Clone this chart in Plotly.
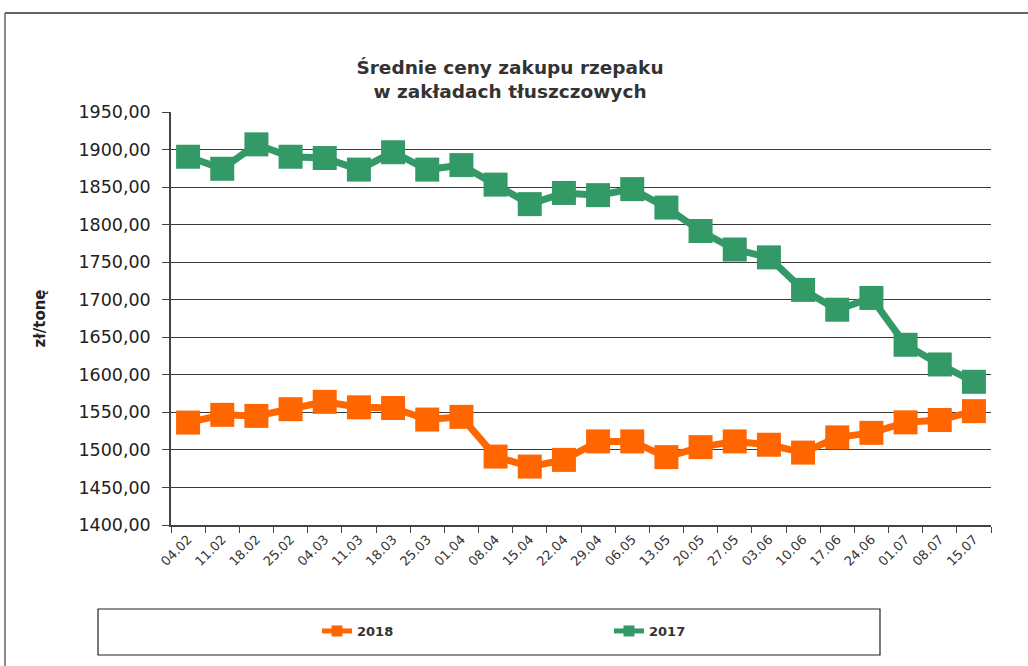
import plotly.graph_objects as go

categories = ["04.02", "11.02", "18.02", "25.02", "04.03", "11.03", "18.03", "25.03",
              "01.04", "08.04", "15.04", "22.04", "29.04", "06.05", "13.05", "20.05",
              "27.05", "03.06", "10.06", "17.06", "24.06", "01.07", "08.07", "15.07"]

prices_2018 = [1536.4, 1546.7, 1545.3, 1554.2, 1564.0, 1556.7, 1555.8, 1540.4,
               1544.0, 1491.1, 1477.8, 1486.7, 1511.3, 1511.3, 1490.4, 1503.7,
               1511.3, 1506.9, 1496.4, 1516.7, 1522.7, 1536.7, 1539.8, 1551.6]

prices_2017 = [1890.4, 1874.4, 1906.9, 1890.4, 1888.7, 1873.3, 1896.4, 1873.3,
               1879.3, 1853.3, 1827.3, 1842.2, 1839.3, 1847.3, 1822.7, 1791.5,
               1766.9, 1756.4, 1713.1, 1686.7, 1702.4, 1640.0, 1613.8, 1590.7]

y_ticks = [1400, 1450, 1500, 1550, 1600, 1650, 1700, 1750, 1800, 1850, 1900, 1950]
y_labels = ["1400,00", "1450,00", "1500,00", "1550,00", "1600,00", "1650,00",
            "1700,00", "1750,00", "1800,00", "1850,00", "1900,00", "1950,00"]

W, H = 1028, 666
L, R, T, B = 171, 991, 112, 525
pw, ph = R - L, B - T


def px(x):
    return (x - L) / pw


def py(y):
    return (B - y) / ph


ORANGE = "#FF6600"
GREEN = "#339966"
FONT = "DejaVu Sans, Liberation Sans, Arial, sans-serif"

fig = go.Figure()
for name, vals, col in [("2018", prices_2018, ORANGE), ("2017", prices_2017, GREEN)]:
    fig.add_trace(go.Scatter(
        x=categories, y=vals, name=name, mode="lines+markers", showlegend=False,
        line=dict(color=col, width=7),
        marker=dict(symbol="square", size=24, color=col, line=dict(width=0)),
    ))
    # legend entry with a small marker, as in the original
    fig.add_trace(go.Scatter(
        x=[None], y=[None], name=name, mode="lines+markers", showlegend=True,
        line=dict(color=col, width=5),
        marker=dict(symbol="square", size=11, color=col, line=dict(width=0)),
    ))

fig.update_layout(
    width=W, height=H,
    margin=dict(l=L, r=W - R, t=T, b=H - B),
    paper_bgcolor="white", plot_bgcolor="white",
    font=dict(family=FONT, color="#222222"),
    title=dict(
        text="<b>Średnie ceny zakupu rzepaku<br>w zakładach tłuszczowych</b>",
        x=510 / W, xanchor="center", y=1 - 74 / H, yanchor="middle",
        font=dict(size=18.5, color="#333333", family=FONT),
    ),
    showlegend=True,
    legend=dict(
        orientation="h", x=px(317), xanchor="left", y=py(631), yanchor="middle",
        font=dict(size=13, color="#333333", family=FONT, weight="bold"),
        entrywidth=247, entrywidthmode="pixels",
        bgcolor="rgba(0,0,0,0)",
    ),
    shapes=[
        dict(type="line", xref="paper", yref="paper",
             x0=px(5), x1=px(1040), y0=py(13), y1=py(13),
             line=dict(color="#666666", width=2), layer="below"),
        dict(type="line", xref="paper", yref="paper",
             x0=px(5), x1=px(5), y0=py(13), y1=py(700),
             line=dict(color="#666666", width=1.5), layer="below"),
        dict(type="rect", xref="paper", yref="paper",
             x0=px(98), x1=px(880), y0=py(655), y1=py(609),
             line=dict(color="#222222", width=1.2), layer="below"),
    ],
)

fig.update_xaxes(
    type="category", tickangle=-45, tickson="boundaries",
    ticks="outside", ticklen=6, tickcolor="#444444",
    showline=True, linecolor="#444444", linewidth=1.5,
    showgrid=False, tickfont=dict(size=13, color="#333333"),
    range=[-0.5, len(categories) - 0.5],
)
fig.update_yaxes(
    range=[1400, 1950], tickvals=y_ticks, ticktext=y_labels,
    ticks="outside", ticklen=7, tickcolor="#444444", ticklabelstandoff=8,
    showline=True, linecolor="#444444", linewidth=1.5,
    showgrid=True, gridcolor="#3a3a3a", gridwidth=1,
    tickfont=dict(size=17.5, color="#222222"),
    title=dict(text="<b>zł/tonę</b>", font=dict(size=15, color="#222222"), standoff=29),
    zeroline=False,
)

fig.write_html("out.html", config={"displayModeBar": False},
               post_script="document.body.style.margin='0';")
